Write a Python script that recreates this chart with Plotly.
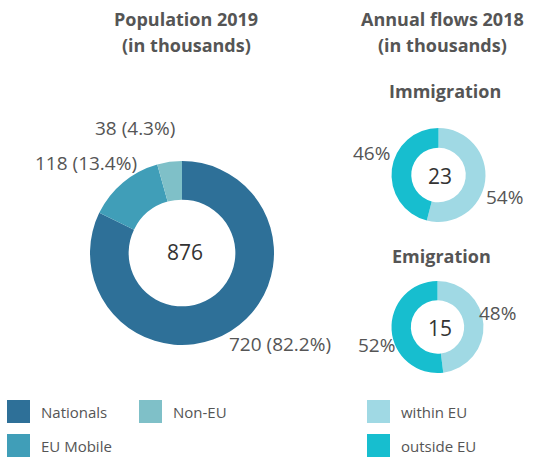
import plotly.graph_objects as go

W, H = 534, 459

# Population 2019 (in thousands)
pop_labels = ["Nationals", "EU Mobile", "Non-EU"]
pop_values = [720, 118, 38]
pop_shares = [82.2, 13.4, 4.3]
pop_total = 876
pop_colors = ["#2E7098", "#409EB8", "#7FC0C8"]

# Annual flows 2018 (in thousands)
flow_labels = ["within EU", "outside EU"]
imm_shares = [54, 46]
imm_total = 23
emi_shares = [48, 52]
emi_total = 15
flow_colors = ["#A0D9E4", "#17BECF"]

FONT = "Open Sans"
GREY = "#555555"


def px(x):
    return x / W


def py(y):
    return 1 - y / H


fig = go.Figure()

fig.add_trace(go.Pie(
    labels=pop_labels, values=pop_values, hole=0.58, sort=False,
    direction="clockwise", rotation=0, textinfo="none",
    marker=dict(colors=pop_colors, line=dict(width=0)),
    domain=dict(x=[px(90), px(274)], y=[py(345), py(161)]),
    showlegend=False, hoverinfo="label+value",
))
fig.add_trace(go.Pie(
    labels=flow_labels, values=imm_shares, hole=0.58, sort=False,
    direction="clockwise", rotation=0, textinfo="none",
    marker=dict(colors=flow_colors, line=dict(width=0)),
    domain=dict(x=[px(391.5), px(485.5)], y=[py(222), py(128)]),
    showlegend=False, hoverinfo="label+percent",
))
fig.add_trace(go.Pie(
    labels=flow_labels, values=emi_shares, hole=0.58, sort=False,
    direction="clockwise", rotation=0, textinfo="none",
    marker=dict(colors=flow_colors, line=dict(width=0)),
    domain=dict(x=[px(391.5), px(483.5)], y=[py(373), py(281)]),
    showlegend=False, hoverinfo="label+percent",
))

ann = []


def text(x, y, t, size=17, color=GREY, bold=False, xanchor="center"):
    ann.append(dict(
        x=px(x), y=py(y), xref="paper", yref="paper", text=(f"<b>{t}</b>" if bold else t),
        showarrow=False, xanchor=xanchor, yanchor="middle",
        font=dict(family=FONT, size=size, color=color),
    ))


# titles
text(186, 19, "Population 2019", size=18, bold=True)
text(186, 45, "(in thousands)", size=18, bold=True)
text(442, 19, "Annual flows 2018", size=18, bold=True)
text(442, 45, "(in thousands)", size=18, bold=True)
text(445, 91, "Immigration", size=18, bold=True)
text(441, 256, "Emigration", size=18, bold=True)

# centre totals
text(185, 252, str(pop_total), size=21, color="#333333")
text(440, 176, str(imm_total), size=21, color="#333333")
text(440, 328, str(emi_total), size=21, color="#333333")

# slice labels
pop_pos = [(280, 344), (86, 163), (135, 128)]
for (x, y), v, s in zip(pop_pos, pop_values, pop_shares):
    text(x, y, f"{v} ({s}%)", size=19)

imm_pos = [(504, 197), (371, 153)]
for (x, y), s in zip(imm_pos, imm_shares):
    text(x, y, f"{s}%", size=19)
emi_pos = [(498, 313), (376, 345)]
for (x, y), s in zip(emi_pos, emi_shares):
    text(x, y, f"{s}%", size=19)

# legend
shapes = []
legend_items = [
    (7, 400, pop_labels[0], pop_colors[0]),
    (7, 434, pop_labels[1], pop_colors[1]),
    (139, 400, pop_labels[2], pop_colors[2]),
    (367, 400, flow_labels[0], flow_colors[0]),
    (367, 434, flow_labels[1], flow_colors[1]),
]
for x, y, lab, col in legend_items:
    shapes.append(dict(type="rect", xref="paper", yref="paper",
                       x0=px(x), x1=px(x + 23), y0=py(y + 23), y1=py(y),
                       fillcolor=col, line=dict(width=0)))
    text(x + 32, y + 12, lab, size=15, xanchor="left")

fig.update_layout(
    width=W, height=H, margin=dict(l=0, r=0, t=0, b=0),
    paper_bgcolor="white", plot_bgcolor="white",
    annotations=ann, shapes=shapes,
)

fig.write_html("out.html", config={"displayModeBar": False},
               post_script="document.body.style.margin='0';document.body.style.overflow='hidden';")
